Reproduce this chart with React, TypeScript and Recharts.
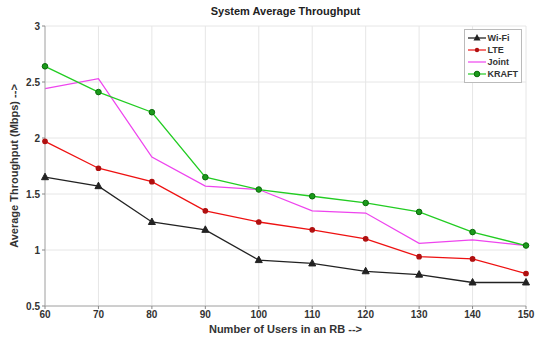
import React from "react";
import {
  LineChart,
  Line,
  XAxis,
  YAxis,
  CartesianGrid,
  Label,
} from "recharts";

const users = [60, 70, 80, 90, 100, 110, 120, 130, 140, 150];
const wifi = [1.65, 1.57, 1.25, 1.18, 0.91, 0.88, 0.81, 0.78, 0.71, 0.71];
const lte = [1.97, 1.73, 1.61, 1.35, 1.25, 1.18, 1.1, 0.94, 0.92, 0.79];
const joint = [2.44, 2.53, 1.83, 1.57, 1.54, 1.35, 1.33, 1.06, 1.09, 1.04];
const kraft = [2.64, 2.41, 2.23, 1.65, 1.54, 1.48, 1.42, 1.34, 1.16, 1.04];
const yTicks = [0.5, 1, 1.5, 2, 2.5, 3];

const data = users.map((u, i) => ({
  users: u,
  wifi: wifi[i],
  lte: lte[i],
  joint: joint[i],
  kraft: kraft[i],
}));

const font = "'Liberation Sans', Arial, sans-serif";

const Triangle = (props: any) => {
  const { cx, cy } = props;
  if (cx == null || cy == null) return null;
  return (
    <path
      d={`M${cx},${cy - 4} L${cx + 3.5},${cy + 2.5} L${cx - 3.5},${cy + 2.5} Z`}
      fill="#222"
      stroke="#222"
      strokeWidth={1}
    />
  );
};

const legendItems = [
  { label: "Wi-Fi", color: "#111", marker: "tri" },
  { label: "LTE", color: "#ee1111", marker: "dot" },
  { label: "Joint", color: "#ee44ee", marker: "none" },
  { label: "KRAFT", color: "#22cc22", marker: "green" },
];

function LegendBox() {
  return (
    <div
      style={{
        position: "absolute",
        top: 29,
        right: 14,
        border: "1px solid #bbb",
        background: "#fff",
        padding: "2px 3px",
        fontFamily: font,
        fontSize: 9,
        fontWeight: "bold",
        color: "#333",
        lineHeight: "12px",
      }}
    >
      {legendItems.map((it) => (
        <div key={it.label} style={{ display: "flex", alignItems: "center" }}>
          <svg width={18} height={12}>
            <line x1={0} x2={18} y1={6} y2={6} stroke={it.color} strokeWidth={1.2} />
            {it.marker === "tri" && <path d="M9,2 L12.5,8.5 L5.5,8.5 Z" fill="#222" />}
            {it.marker === "dot" && <circle cx={9} cy={6} r={2.2} fill="#b01010" />}
            {it.marker === "green" && (
              <circle cx={9} cy={6} r={2.8} fill="#1a9a1a" stroke="#0a6a0a" />
            )}
          </svg>
          <span style={{ marginLeft: 2 }}>{it.label}</span>
        </div>
      ))}
    </div>
  );
}

export default function App() {
  return (
    <div style={{ position: "absolute", left: 0, top: 0, width: 536, height: 341, background: "#fff" }}>
      <div
        style={{
          position: "absolute",
          top: 5,
          left: 45,
          width: 481,
          textAlign: "center",
          fontFamily: font,
          fontWeight: "bold",
          fontSize: 11,
          color: "#222",
        }}
      >
        System Average Throughput
      </div>
      <LineChart
        width={536}
        height={341}
        data={data}
        margin={{ top: 26, right: 10, left: 15, bottom: 15 }}
      >
        <CartesianGrid stroke="#e6e6e6" />
        <XAxis
          dataKey="users"
          type="number"
          domain={[60, 150]}
          ticks={users}
          interval={0}
          tick={{ fontSize: 10, fill: "#333", fontFamily: font, fontWeight: "bold" }}
          tickLine={{ stroke: "#888" }}
          tickSize={3}
          axisLine={{ stroke: "#aaa" }}
          height={20}
        >
          <Label
            value="Number of Users in an RB -->"
            position="bottom"
            offset={-1}
            style={{ fontSize: 11, fill: "#333", fontFamily: font, fontWeight: "bold" }}
          />
        </XAxis>
        <XAxis xAxisId="top" orientation="top" dataKey="users" type="number" domain={[60, 150]} tick={false} axisLine={{ stroke: "#aaa" }} height={0} />
        <YAxis
          type="number"
          domain={[0.5, 3]}
          ticks={yTicks}
          interval={0}
          tick={{ fontSize: 10, fill: "#333", fontFamily: font, fontWeight: "bold" }}
          tickLine={{ stroke: "#888" }}
          tickSize={3}
          axisLine={{ stroke: "#aaa" }}
          width={30}
        >
          <Label
            value="Average Throughput (Mbps) -->"
            angle={-90}
            position="left"
            offset={1}
            style={{ fontSize: 11, fill: "#333", fontFamily: font, fontWeight: "bold", textAnchor: "middle" }}
          />
        </YAxis>
        <YAxis yAxisId="right" orientation="right" domain={[0.5, 3]} tick={false} axisLine={{ stroke: "#aaa" }} width={0} />
        <Line
          dataKey="wifi"
          name="Wi-Fi"
          stroke="#222"
          strokeWidth={1.3}
          dot={<Triangle />}
          isAnimationActive={false}
        />
        <Line
          dataKey="lte"
          name="LTE"
          stroke="#ee1111"
          strokeWidth={1.3}
          dot={{ r: 2.2, fill: "#b01010", stroke: "#b01010" }}
          isAnimationActive={false}
        />
        <Line
          dataKey="joint"
          name="Joint"
          stroke="#ee44ee"
          strokeWidth={1.3}
          dot={false}
          isAnimationActive={false}
        />
        <Line
          dataKey="kraft"
          name="KRAFT"
          stroke="#22cc22"
          strokeWidth={1.3}
          dot={{ r: 2.8, fill: "#1a9a1a", stroke: "#0a6a0a", strokeWidth: 1 }}
          isAnimationActive={false}
        />
      </LineChart>
      <LegendBox />
    </div>
  );
}
